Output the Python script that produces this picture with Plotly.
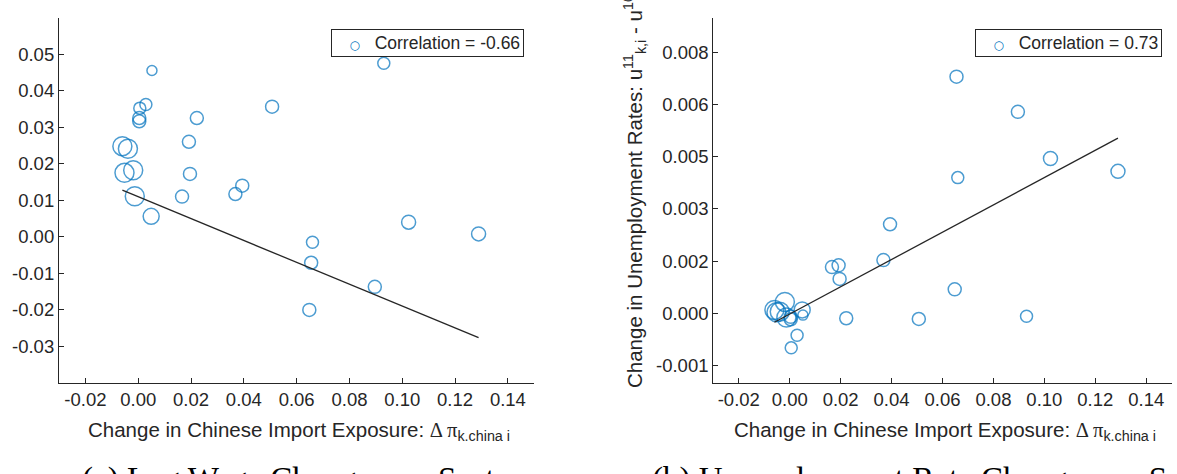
import plotly.graph_objects as go
import numpy as np

# ---------------- data ----------------
x_exposure = [0.0052, 0.0029, 0.0006, 0.0004, 0.0004, -0.0060, -0.0039, -0.0052,
              -0.0019, -0.0013, 0.0049, 0.0222, 0.0192, 0.0196, 0.0166, 0.0368,
              0.0394, 0.0507, 0.0930, 0.1024, 0.1289, 0.0660, 0.0655, 0.0896, 0.0648]
wage_change = [0.0455, 0.0362, 0.0352, 0.0325, 0.0316, 0.0248, 0.0241, 0.0175,
               0.0182, 0.0111, 0.0056, 0.0325, 0.0260, 0.0172, 0.0110, 0.0117,
               0.0140, 0.0356, 0.0475, 0.0040, 0.0008, -0.0015, -0.0071, -0.0137, -0.0200]
unemp_change = [-0.00005, -0.00063, -0.00099, -0.00017, -0.00010, 0.00010, 0.00005, 0.00003,
                0.00033, -0.00012, 0.00010, -0.00014, 0.00138, 0.00099, 0.00133, 0.00153,
                0.00256, -0.00016, -0.00008, 0.00445, 0.00408, 0.0039, 0.0068, 0.00579, 0.00069]
sector_weight = [10, 12, 12, 13, 13, 19, 19, 19, 19, 19, 16, 13, 13, 13, 13, 13,
                 13, 13, 12, 14, 14, 12, 13, 13, 13]

fit_wage = dict(intercept=0.01095, slope=-0.299)
fit_unemp = dict(intercept=-0.00002, slope=0.0392)
corr_wage = -0.66
corr_unemp = 0.73

x_ticks = [-0.02, 0.00, 0.02, 0.04, 0.06, 0.08, 0.10, 0.12, 0.14]
x_ticklabels = ["-0.02", "0.00", "0.02", "0.04", "0.06", "0.08", "0.10", "0.12", "0.14"]
y_ticks_wage = [-0.03, -0.02, -0.01, 0.00, 0.01, 0.02, 0.03, 0.04, 0.05]
y_ticklabels_wage = ["-0.03", "-0.02", "-0.01", "0.00", "0.01", "0.02", "0.03", "0.04", "0.05"]
y_ticks_unemp = [-0.0015, 0.0, 0.0015, 0.003, 0.0045, 0.006, 0.0075]
y_ticklabels_unemp = ["-0.001", "0.000", "0.002", "0.003", "0.005", "0.006", "0.008"]

# ---------------- styling ----------------
W, H = 1177, 474
BLUE = "#0072BD"
AX = "#262626"
SANS = "Liberation Sans, Arial, sans-serif"
SERIF = "Liberation Serif, Times New Roman, serif"

def fx(p):
    return p / W

def fy(p):
    return 1 - p / H

fig = go.Figure()

def add_panel(xa, ya, yvals, fit):
    fig.add_trace(go.Scatter(
        x=x_exposure, y=yvals, mode="markers", showlegend=False,
        marker=dict(symbol="circle-open", size=sector_weight, color=BLUE,
                    line=dict(width=1.5)),
        xaxis=xa, yaxis=ya, hoverinfo="x+y"))
    xs = np.array([min(x_exposure), max(x_exposure)])
    fig.add_trace(go.Scatter(
        x=xs, y=fit["intercept"] + fit["slope"] * xs, mode="lines",
        line=dict(color=AX, width=1.3), showlegend=False,
        xaxis=xa, yaxis=ya))

add_panel("x", "y", wage_change, fit_wage)
add_panel("x2", "y2", unemp_change, fit_unemp)

axis_common = dict(showline=True, linecolor=AX, linewidth=1.2, mirror=False,
                   ticks="inside", ticklen=5, tickwidth=1, tickcolor=AX,
                   showgrid=False, zeroline=False, automargin=False,
                   tickfont=dict(family=SANS, size=18.5, color=AX))

ydom = [fy(383), fy(17.5)]
fig.update_layout(
    width=W, height=H,
    margin=dict(l=0, r=0, t=0, b=0),
    paper_bgcolor="white", plot_bgcolor="white",
    showlegend=False,
    xaxis=dict(domain=[fx(59), fx(534.3)], range=[-0.03, 0.15], anchor="y",
               tickvals=x_ticks, ticktext=x_ticklabels, **axis_common),
    yaxis=dict(domain=ydom, range=[-0.04, 0.06], anchor="x",
               tickvals=y_ticks_wage, ticktext=y_ticklabels_wage, **axis_common),
    xaxis2=dict(domain=[fx(713.3), fx(1171.7)], range=[-0.03, 0.15], anchor="y2",
                tickvals=x_ticks, ticktext=x_ticklabels, **axis_common),
    yaxis2=dict(domain=ydom, range=[-0.002, 0.0085], anchor="x2",
                tickvals=y_ticks_unemp, ticktext=y_ticklabels_unemp, **axis_common),
)

# legend boxes (marker glyph + correlation text)
NB = "\u00a0"
def legend_text(corr):
    return (NB * 3 + f'<span style="color:{BLUE};font-size:12px;font-weight:bold;'
            'font-family:DejaVu Sans">○</span>' + NB * 3 + f"Correlation = {corr:.2f}")

for corr, xr in [(corr_wage, 523.5), (corr_unemp, 1161.7)]:
    fig.add_annotation(xref="paper", yref="paper", showarrow=False,
                       text=legend_text(corr), x=fx(xr), y=fy(29),
                       xanchor="right", yanchor="top", align="left",
                       bgcolor="white", bordercolor=AX, borderwidth=1, borderpad=3,
                       font=dict(family=SANS, size=17.5, color=AX))

xtitle = ('Change in Chinese Import Exposure: '
          '<span style="font-family:Liberation Serif">Δ π</span>'
          '<sub>k.china i</sub>')
annots = [
    dict(text=xtitle, x=fx(299), y=fy(416), xanchor="center", yanchor="top"),
    dict(text=xtitle, x=fx(945), y=fy(416), xanchor="center", yanchor="top"),
    dict(text='Change in Unemployment Rates: u<sup>11</sup><sub>k,i</sub> - u<sup>10</sup><sub>k,i</sub>',
         x=fx(634), y=fy(390), xanchor="center", yanchor="bottom", textangle=-90),
    dict(text='Change in Log Wages: Δ ln w<sub>it</sub>',
         x=fx(-13), y=fy(60), xanchor="center", yanchor="top", textangle=-90),
]
for a in annots:
    fig.add_annotation(xref="paper", yref="paper", showarrow=False,
                       font=dict(family=SANS, size=20.5, color=AX), **a)

# sub-figure captions (first lines; the page crop cuts them)
captions = [
    dict(text="(a) Log Wage Changes vs. Sector", x=fx(80)),
    dict(text="(b) Unemployment Rate Changes vs. Sector", x=fx(650)),
]
for c in captions:
    fig.add_annotation(xref="paper", yref="paper", showarrow=False,
                       xanchor="left", yanchor="top", y=fy(459),
                       font=dict(family=SERIF, size=33, color="black"), **c)

fig.write_html("out.html")
